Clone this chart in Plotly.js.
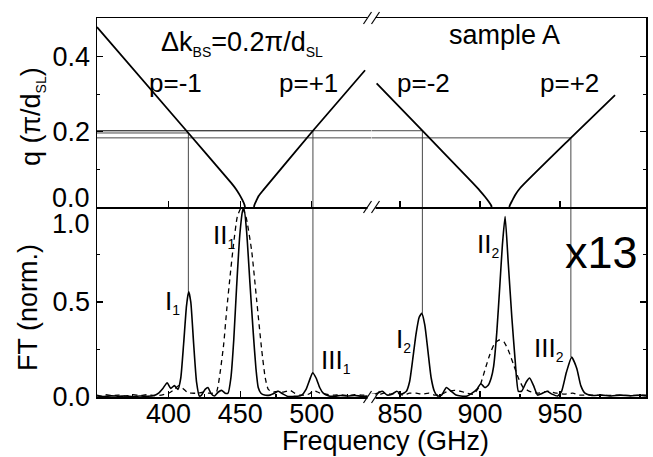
<!DOCTYPE html>
<html><head><meta charset="utf-8">
<script src="https://cdn.plot.ly/plotly-3.0.1.min.js"></script>
<style>html,body{margin:0;padding:0;background:#fff;}#chart{width:653px;height:457px;}</style>
</head><body><div id="chart"></div>
<script>
// ---- FT spectra (bottom panel) ----
const solidLeftF = [350,355,360,365,370,375,380,385,390,393,396,399,401.5,404,406.5,408.5,410.5,412.5,414,415.5,417.5,419.5,421.5,423,425.5,427.5,429.5,432,434.5,437,439.5,441.5,443.5,445.5,447.5,449.7,451.7,452.7,454.5,456.8,459.1,461,462.6,464.5,467,470.8,474,476.6,480,483.6,487,490,493,496,498.5,500.6,503,505.5,508,512,516,520,525,530,535,541.7];
const solidLeftV = [0.005,0.003,0.006,0.004,0.005,0.003,0.005,0.004,0.008,0.02,0.045,0.075,0.045,0.06,0.04,0.1,0.28,0.48,0.555,0.5,0.28,0.08,0.005,0.01,0.04,0.05,0.02,0.005,0.025,0.035,0.02,0.02,0.1,0.3,0.58,0.85,0.98,0.99,0.87,0.6,0.34,0.15,0.05,0.02,0.01,0.01,0.02,0.03,0.015,0.002,0.003,0.004,0.01,0.04,0.09,0.128,0.1,0.05,0.02,0.005,0.004,0.008,0.005,0.008,0.004,0.006];
const dashLeftF = [350,353,356,360,365,370,375,380,385,390,395,400,404,407,410,413,416,420,424,428,431,433.6,436,438.5,440.6,443,445.3,448,451,454,458,461.5,465,467.5,469.6,473,476,479,482,485,488,492,496,499,501,503,506,510,515,520,525,530,535,541.7];
const dashLeftV = [0.01,0.005,0.012,0.008,0.01,0.005,0.012,0.008,0.012,0.008,0.01,0.02,0.04,0.06,0.045,0.025,0.02,0.02,0.025,0.02,0.02,0.03,0.13,0.28,0.46,0.64,0.8,0.95,1.0,0.95,0.77,0.51,0.25,0.1,0.04,0.025,0.03,0.025,0.03,0.035,0.02,0.01,0.01,0.02,0.035,0.03,0.02,0.015,0.01,0.012,0.008,0.012,0.01,0.01];
const solidRightF = [832.2,836,839,842,845,848,851,854,856,858,860,862,863.6,865.5,867.5,869.5,871.5,873.5,876,879,882,885,888,892,895,898,900.5,903,905,907,908.5,910.5,912.5,914,915.7,917.7,919.9,922,924,926,929,931,933.5,936,939,942,945,948.5,951,954,957.3,960.5,963,965.6,970,976,982,988,994,1000,1003.75];
const solidRightV = [0.01,0.02,0.03,0.01,0.015,0.03,0.015,0.03,0.08,0.2,0.33,0.42,0.44,0.38,0.24,0.1,0.03,0.005,0.01,0.05,0.03,0.01,0.005,0.005,0.02,0.04,0.07,0.05,0.06,0.1,0.16,0.34,0.6,0.8,0.95,0.7,0.42,0.19,0.03,0.03,0.08,0.1,0.06,0.01,0.02,0.03,0.015,0.005,0.03,0.13,0.21,0.15,0.06,0.02,0.008,0.01,0.005,0.01,0.006,0.01,0.006];
const dashRightF = [832.2,836,840,844,848,852,856,860,864,868,872,876,880,884,888,892,896,900,903,906,909,912,915,918,921,924,927,931,936,942,948,953,958,962,970,978,986,994,1003.75];
const dashRightV = [0.015,0.01,0.02,0.015,0.02,0.01,0.02,0.02,0.015,0.02,0.01,0.015,0.03,0.035,0.03,0.02,0.015,0.06,0.14,0.22,0.28,0.3,0.29,0.24,0.17,0.1,0.05,0.03,0.02,0.03,0.02,0.015,0.02,0.01,0.01,0.008,0.01,0.008,0.01];

// ---- dispersion branches (top panel) ----
const pm1F = [350,413.8,444,447,449.5,451.5,452.8,453.4];
const pm1Q = [0.479,0.197,0.063,0.048,0.033,0.019,0.008,0];
const pp1F = [459.6,460,461.3,463,466.1,500.8,537.2];
const pp1Q = [0,0.006,0.017,0.03,0.045,0.203,0.364];
const pm2F = [835.4,864,895,900,903,905.5,907,907.3];
const pm2Q = [0.329,0.203,0.066,0.043,0.028,0.014,0.004,0];
const pp2F = [918.3,918.7,920,922,925,956.8,984.4];
const pp2Q = [0,0.005,0.016,0.032,0.05,0.184,0.298];

// ---- crossings (guide lines) ----
const crossF = [413.8,500.8,864,956.8];
const crossQ = [0.197,0.203,0.203,0.184];
const peakFT = [0.555,0.128,0.44,0.21];

// ---- axes ----
const xLeftRange = [350,541.7];
const xRightRange = [832.2,1003.75];
const ftRange = [0,1.0];
const qRange = [0,0.503];
const xLeftTicks = [400,450,500];
const xRightTicks = [850,900,950];
const ftTicks = [0,0.5,1.0];
const ftTickText = ['0.0','0.5',''];
const qTicks = [0,0.2,0.4];
const qTickText = ['','0.2','0.4'];

const FONT = 'Liberation Sans, Arial, Helvetica, sans-serif';
const sub = s => '<sub><span style="font-size:14px">' + s + '</span></sub>';

const traces = [];
const curve = (x, y, xa, ya, dash, w) => traces.push({x, y, xaxis: xa, yaxis: ya, type: 'scatter', mode: 'lines',
  line: {color: '#000', width: w || 1.6, dash: dash || 'solid', shape: 'spline', smoothing: 0.5}, hoverinfo: 'skip'});
const guide = (x, y, xa, ya) => traces.push({x, y, xaxis: xa, yaxis: ya, type: 'scatter', mode: 'lines',
  line: {color: '#333', width: 0.9}, hoverinfo: 'skip'});

// guide lines
crossF.forEach((f, i) => {
  const left = f < xLeftRange[1];
  if (left) {
    guide([xLeftRange[0], f], [crossQ[i], crossQ[i]], 'x3', 'y2');
    guide([f, f], [crossQ[i], qRange[0]], 'x3', 'y2');
    guide([f, f], [ftRange[1], peakFT[i]], 'x', 'y');
  } else {
    guide([xLeftRange[0], xLeftRange[1]], [crossQ[i], crossQ[i]], 'x3', 'y2');
    guide([xRightRange[0], f], [crossQ[i], crossQ[i]], 'x4', 'y2');
    guide([f, f], [crossQ[i], qRange[0]], 'x4', 'y2');
    guide([f, f], [ftRange[1], peakFT[i]], 'x2', 'y');
  }
});

curve(dashLeftF, dashLeftV, 'x', 'y', '5px,4px', 1.3);
curve(solidLeftF, solidLeftV, 'x', 'y');
curve(dashRightF, dashRightV, 'x2', 'y', '5px,4px', 1.3);
curve(solidRightF, solidRightV, 'x2', 'y');
curve(pm1F, pm1Q, 'x3', 'y2', 'solid', 1.8);
curve(pp1F, pp1Q, 'x3', 'y2', 'solid', 1.8);
curve(pm2F, pm2Q, 'x4', 'y2', 'solid', 1.8);
curve(pp2F, pp2Q, 'x4', 'y2', 'solid', 1.8);
// empty traces to activate the right-hand tick axes
traces.push({x: [], y: [], xaxis: 'x2', yaxis: 'y3', type: 'scatter', mode: 'lines'});
traces.push({x: [], y: [], xaxis: 'x4', yaxis: 'y4', type: 'scatter', mode: 'lines'});

const SPLIT = 0.5;
const YSPLIT = 0.5013;
const tickFont = {family: FONT, size: 27, color: '#000'};
const baseX = {ticks: 'inside', ticklen: 6, tickwidth: 1.2, tickcolor: '#000', showline: true, linewidth: 1.5, linecolor: '#000',
  showgrid: false, zeroline: false, tickfont: tickFont, fixedrange: true};
const baseY = Object.assign({}, baseX);

const layout = {
  width: 653, height: 457,
  margin: {l: 97, r: 7, t: 18, b: 60, pad: 0},
  paper_bgcolor: '#fff', plot_bgcolor: '#fff', showlegend: false,
  font: {family: FONT, size: 27, color: '#000'},
  xaxis: Object.assign({}, baseX, {domain: [0, SPLIT], range: xLeftRange, anchor: 'y', tickvals: xLeftTicks, ticklabelstandoff: -8,
    minor: {tickvals: [375,425,475,525], ticklen: 3, ticks: 'inside', tickcolor: '#000'}}),
  xaxis2: Object.assign({}, baseX, {domain: [SPLIT, 1], range: xRightRange, anchor: 'y', tickvals: xRightTicks, ticklabelstandoff: -8,
    minor: {tickvals: [875,925,975,1000], ticklen: 3, ticks: 'inside', tickcolor: '#000'}}),
  xaxis3: Object.assign({}, baseX, {domain: [0, SPLIT], range: xLeftRange, anchor: 'y2', tickvals: xLeftTicks, showticklabels: false, mirror: true}),
  xaxis4: Object.assign({}, baseX, {domain: [SPLIT, 1], range: xRightRange, anchor: 'y2', tickvals: xRightTicks, showticklabels: false, mirror: true}),
  yaxis: Object.assign({}, baseY, {domain: [0, YSPLIT], range: ftRange, anchor: 'x', tickvals: ftTicks, ticktext: ftTickText,
    minor: {tickvals: [0.25,0.75], ticklen: 3, ticks: 'inside', tickcolor: '#000'}}),
  yaxis2: Object.assign({}, baseY, {domain: [YSPLIT, 1], range: qRange, anchor: 'x3', tickvals: qTicks, ticktext: qTickText,
    minor: {tickvals: [0.1,0.3], ticklen: 3, ticks: 'inside', tickcolor: '#000'}}),
  yaxis3: Object.assign({}, baseY, {domain: [0, YSPLIT], range: ftRange, anchor: 'x2', overlaying: 'y', side: 'right', tickvals: ftTicks, showticklabels: false,
    minor: {tickvals: [0.25,0.75], ticklen: 3, ticks: 'inside', tickcolor: '#000'}}),
  yaxis4: Object.assign({}, baseY, {domain: [YSPLIT, 1], range: qRange, anchor: 'x4', overlaying: 'y2', side: 'right', tickvals: qTicks, showticklabels: false,
    minor: {tickvals: [0.1,0.3], ticklen: 3, ticks: 'inside', tickcolor: '#000'}}),
  annotations: [],
  shapes: []
};

const ann = (text, x, y, xref, yref, size, extra) => layout.annotations.push(Object.assign({text, x, y, xref, yref, showarrow: false,
  font: {family: FONT, size: size || 26, color: '#000'}, xanchor: 'center', yanchor: 'middle'}, extra || {}));

ann('Δk' + sub('BS') + '=0.2π/d' + sub('SL'), 451, 0.436, 'x3', 'y2', 27);
ann('sample A', 915.6, 0.457, 'x4', 'y2', 27);
ann('p=-1', 405, 0.33, 'x3', 'y2', 26);
ann('p=+1', 498, 0.33, 'x3', 'y2', 26);
ann('p=-2', 865, 0.33, 'x4', 'y2', 26);
ann('p=+2', 956, 0.33, 'x4', 'y2', 26);
ann('I' + sub('1'), 403, 0.5, 'x', 'y', 26);
ann('II' + sub('1'), 438.7, 0.85, 'x', 'y', 26);
ann('III' + sub('1'), 517, 0.19, 'x', 'y', 26);
ann('I' + sub('2'), 852.5, 0.3, 'x2', 'y', 26);
ann('II' + sub('2'), 905, 0.8, 'x2', 'y', 26);
ann('III' + sub('2'), 943, 0.25, 'x2', 'y', 26);
ann('x13', 976, 0.76, 'x2', 'y', 45);
// stacked tick labels at the panel junction
ann('0.0', 0, 0, 'paper', 'y2', 27, {xanchor: 'right', xshift: -5, yshift: 9});
ann('1.0', 0, 1.0, 'paper', 'y', 27, {xanchor: 'right', xshift: -5, yshift: -17});
// axis titles
ann('Frequency (GHz)', 0.525, -0.116, 'paper', 'paper', 27);
ann('q (π/d' + sub('SL') + ')', 0, 0.5 * (YSPLIT + 1) - 0.012, 'paper', 'paper', 27, {textangle: -90, xshift: -65});
ann('FT (norm.)', 0, 0.5 * YSPLIT - 0.016, 'paper', 'paper', 27, {textangle: -90, xshift: -69});

// axis-break marks
[1, YSPLIT, 0].forEach(yy => {
  layout.shapes.push({type: 'rect', xref: 'paper', yref: 'paper', xsizemode: 'pixel', ysizemode: 'pixel', xanchor: SPLIT, yanchor: yy,
    x0: -4, x1: 4, y0: -3, y1: 3, fillcolor: '#fff', line: {width: 0}});
  [-4, 4].forEach(dx => layout.shapes.push({type: 'line', xref: 'paper', yref: 'paper', xsizemode: 'pixel', ysizemode: 'pixel',
    xanchor: SPLIT, yanchor: yy, x0: dx - 4, x1: dx + 4, y0: -6, y1: 6, line: {color: '#000', width: 1.2}}));
});

Plotly.newPlot('chart', traces, layout, {displayModeBar: false, staticPlot: true});
</script></body></html>
